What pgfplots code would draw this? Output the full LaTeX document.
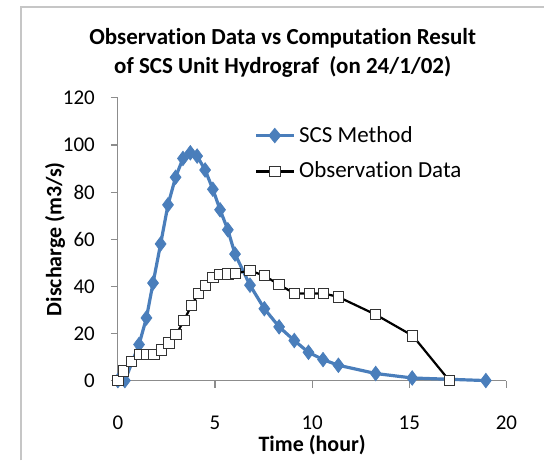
\documentclass[border=0pt]{standalone}
\usepackage{pgfplots}
\pgfplotsset{compat=1.18}
\usepackage{fontspec}
\setmainfont[Ligatures=NoCommon]{Carlito}
\definecolor{scsblue}{HTML}{4A7EBB}
\definecolor{axgray}{HTML}{8C8C8C}

\begin{document}
\begin{tikzpicture}[x=0.5pt,y=0.5pt]
% image frame (545 x 461 px, 1px = 0.5pt)
\path (0,0) rectangle (545,461);
\draw[gray!45,line width=0.6pt] (21,0) -- (21,454) -- (545,454);
\node[font=\bfseries\fontsize{11.5}{14.5}\selectfont,align=center] at (283,408) {Observation Data vs Computation Result\\of SCS Unit Hydrograf\ \ (on 24/1/02)};
\begin{axis}[
    at={(59pt,40pt)}, anchor=south west,
    scale only axis,
    width=194.5pt, height=141.5pt,
    xmin=0, xmax=20, ymin=0, ymax=120,
    xtick={0,5,...,20}, ytick={0,20,...,120},
    axis x line*=bottom, axis y line*=left,
    axis line style={axgray, line width=0.6pt},
    tick style={axgray, line width=0.6pt},
    tick align=outside, major tick length=3.5pt,
    x axis line style={-}, y axis line style={-},
    ticklabel style={font=\fontsize{10.5}{12}\selectfont},
    xticklabel style={yshift=-10.5pt},
    yticklabel style={xshift=-4.5pt},
    /pgf/number format/assume math mode=true,
    xlabel={\textbf{Time (hour)}},
    ylabel={\textbf{Discharge (m3/s)}},
    label style={font=\fontsize{11}{12}\selectfont},
    xlabel style={yshift=4pt},
    ylabel style={yshift=-8pt},
    legend style={draw=none, fill=none, at={(0.335,0.93)}, anchor=north west,
        font=\fontsize{11.5}{13}\selectfont, row sep=4.5pt},
    legend cell align=left,
    legend image post style={xscale=1.1},
    clip=false,
]
\addplot[scsblue, line width=1.6pt, mark=diamond*, mark size=3.6pt,
    mark options={fill=scsblue, draw=scsblue, line width=0.4pt}] coordinates {
    (0,0) (0.36,0) (1.09,15.3) (1.47,26.6) (1.81,41.4) (2.2,58) (2.58,74.6)
    (2.97,86.3) (3.35,94.3) (3.73,96.7) (4.08,95.3) (4.49,89.4) (4.89,81.2)
    (5.26,72.5) (5.66,64) (6.03,53.7) (6.8,40.5) (7.54,30.5) (8.3,22.8)
    (9.08,17) (9.81,12) (10.56,8.9) (11.35,6.5) (13.27,3) (15.15,1.1) (18.94,0)
};
\addlegendentry{SCS Method}
\addplot[black, line width=1.1pt, mark=square*, mark size=2.6pt,
    mark options={fill=white, draw=black!80, line width=0.5pt}] coordinates {
    (0,0) (0.3,4) (0.7,8) (1.1,11) (1.47,11) (1.85,11) (2.24,13) (2.63,16)
    (3.0,19.5) (3.4,25.5) (3.78,31.8) (4.15,37) (4.51,40.4) (4.89,43.8)
    (5.26,44.9) (5.66,45.2) (6.04,45.5) (6.8,46.7) (7.54,44.5) (8.3,40.7)
    (9.08,37) (9.85,37) (10.58,37) (11.35,35.5) (13.27,28) (15.18,19) (17.06,0)
};
\addlegendentry{Observation Data}
\end{axis}
\end{tikzpicture}
\end{document}
